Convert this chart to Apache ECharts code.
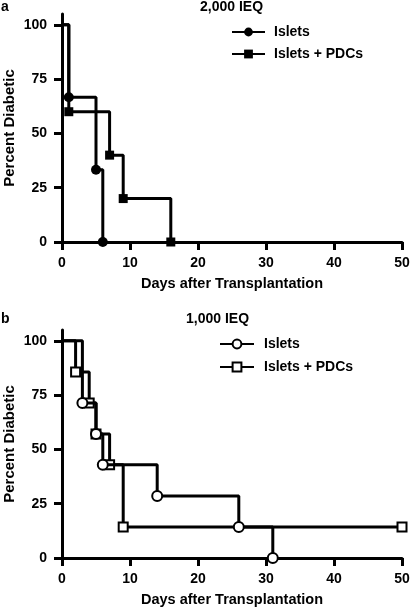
<!DOCTYPE html>
<html>
<head>
<meta charset="utf-8">
<script src="https://cdn.jsdelivr.net/npm/echarts@6/dist/echarts.min.js"></script>
<style>
html,body{margin:0;padding:0;background:#fff;}
#chart{width:411px;height:610px;}
</style>
</head>
<body>
<div id="chart"></div>
<script>
// ---- data ----
var panelLabels = ['a', 'b'];
var panelTitles = ['2,000 IEQ', '1,000 IEQ'];
var seriesNames = ['Islets', 'Islets + PDCs'];
var yTicks = [0, 25, 50, 75, 100];
var xTicks = [0, 10, 20, 30, 40, 50];
var xTitle = 'Days after Transplantation';
var yTitle = 'Percent Diabetic';

// Panel a (2,000 IEQ): [day, percent diabetic]
var a_islets = [[0, 100], [1, 66.7], [5, 33.3], [6, 0]];
var a_isletsPDC = [[0, 100], [1, 60], [7, 40], [9, 20], [16, 0]];
// Panel b (1,000 IEQ)
var b_islets = [[0, 100], [3, 71.4], [5, 57.1], [6, 42.9], [14, 28.6], [26, 14.3], [31, 0]];
var b_isletsPDC = [[0, 100], [2, 85.7], [4, 71.4], [5, 57.1], [7, 42.9], [9, 14.3], [50, 14.3]];

var FONT = "'Liberation Sans', Arial, sans-serif";
var txt = {fontFamily: FONT, fontWeight: 'bold', fontSize: 14, color: '#000'};
var openStyle = {color: '#fff', borderColor: '#000', borderWidth: 2};
var filledStyle = {color: '#000', borderColor: '#000', borderWidth: 0};

function pts(arr) {
  return arr.map(function (p, i) {
    return i === 0 ? {value: p, symbol: 'none'} : {value: p};
  });
}

function xAxisFor(g) {
  return {
    type: 'value', gridIndex: g, min: 0, max: 50, interval: 10,
    name: xTitle, nameLocation: 'middle', nameGap: 34, nameMoveOverlap: false,
    nameTextStyle: Object.assign({}, txt, {fontSize: 14.5}),
    axisLine: {show: true, lineStyle: {color: '#000', width: 3}},
    axisTick: {show: true, length: 8, lineStyle: {color: '#000', width: 3}, customValues: xTicks},
    axisLabel: Object.assign({margin: 14, customValues: xTicks}, txt),
    splitLine: {show: false}
  };
}
function yAxisFor(g) {
  return {
    type: 'value', gridIndex: g, min: 0, max: 105,
    name: yTitle, nameLocation: 'middle', nameGap: 45, nameMoveOverlap: false,
    nameTextStyle: Object.assign({}, txt, {fontSize: 15}),
    axisLine: {show: true, onZero: false, lineStyle: {color: '#000', width: 3}},
    axisTick: {show: true, length: 8, lineStyle: {color: '#000', width: 3}, customValues: yTicks},
    axisLabel: Object.assign({margin: 15, customValues: yTicks}, txt),
    splitLine: {show: false}
  };
}
function ser(name, data, g, symbol, open, z) {
  return {
    name: name, type: 'line', step: 'end', xAxisIndex: g, yAxisIndex: g,
    data: pts(data), symbol: symbol, symbolSize: symbol === 'rect' ? 9 : 10,
    showAllSymbol: true, z: z, clip: false,
    lineStyle: {color: '#000', width: 3},
    itemStyle: open ? openStyle : filledStyle,
    emphasis: {disabled: true},
    animation: false
  };
}

var chart = echarts.init(document.getElementById('chart'), null, {renderer: 'canvas'});
chart.setOption({
  animation: false,
  backgroundColor: '#fff',
  title: [
    {text: panelLabels[0], left: 1, top: 0, padding: 0, textStyle: Object.assign({lineHeight: 14}, txt)},
    {text: panelTitles[0], left: 200, top: 0, padding: 0, textStyle: Object.assign({lineHeight: 14}, txt)},
    {text: panelLabels[1], left: 1, top: 312, padding: 0, textStyle: Object.assign({lineHeight: 14}, txt)},
    {text: panelTitles[1], left: 186, top: 312, padding: 0, textStyle: Object.assign({lineHeight: 14}, txt)}
  ],
  legend: [
    {data: [{name: seriesNames[0], itemStyle: filledStyle}, {name: seriesNames[1], itemStyle: filledStyle}],
     orient: 'vertical', left: 231, top: 25, padding: 0, itemWidth: 33, itemHeight: 11, itemGap: 8,
     textStyle: Object.assign({padding: [0, 0, 0, 4]}, txt), selectedMode: false},
    {data: [{name: seriesNames[0], itemStyle: openStyle}, {name: seriesNames[1], itemStyle: openStyle}],
     orient: 'vertical', left: 219, top: 337, padding: 0, itemWidth: 34, itemHeight: 11, itemGap: 9,
     textStyle: Object.assign({padding: [0, 0, 0, 5]}, txt), selectedMode: false}
  ],
  grid: [
    {left: 62, top: 14, width: 340, height: 228, containLabel: false, outerBoundsMode: 'none'},
    {left: 62, top: 330, width: 340, height: 228, containLabel: false, outerBoundsMode: 'none'}
  ],
  xAxis: [xAxisFor(0), xAxisFor(1)],
  yAxis: [yAxisFor(0), yAxisFor(1)],
  series: [
    ser(seriesNames[1], a_isletsPDC, 0, 'rect', false, 2),
    ser(seriesNames[0], a_islets, 0, 'circle', false, 3),
    ser(seriesNames[1], b_isletsPDC, 1, 'rect', true, 2),
    ser(seriesNames[0], b_islets, 1, 'circle', true, 3)
  ]
});
</script>
</body>
</html>
